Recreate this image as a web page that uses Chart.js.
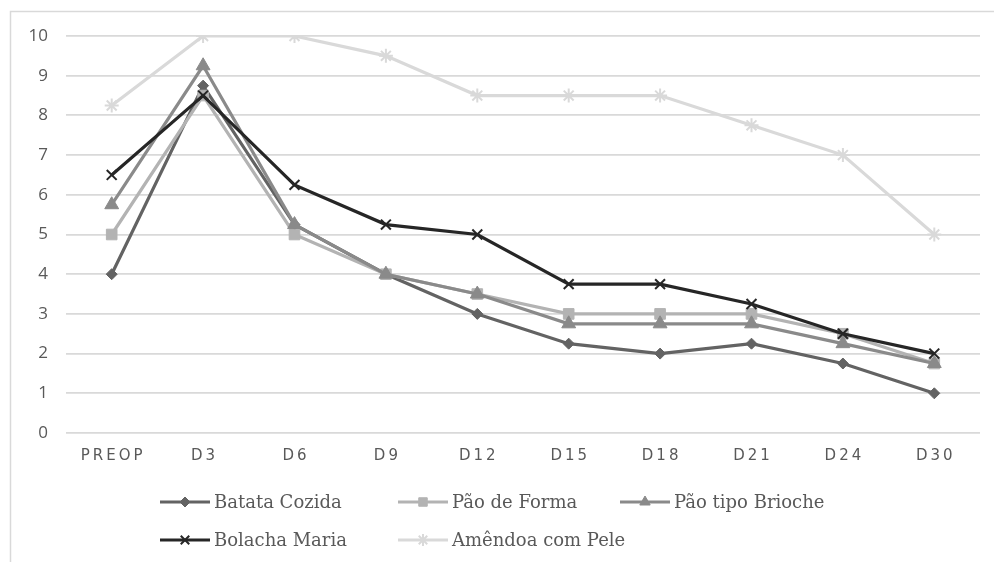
<!DOCTYPE html>
<html>
<head>
<meta charset="utf-8">
<script src="https://cdn.jsdelivr.net/npm/chart.js@4/dist/chart.umd.min.js"></script>
<style>
  html, body { margin: 0; padding: 0; background: #fff; }
  #wrap { position: relative; width: 994px; height: 562px; }
</style>
</head>
<body>
<div id="wrap"><canvas id="c" width="994" height="562"></canvas></div>
<script>
// Evaluation days
const days = ['PREOP', 'D3', 'D6', 'D9', 'D12', 'D15', 'D18', 'D21', 'D24', 'D30'];

// Scores per food
const batataCozida   = [4, 8.75, 5.25, 4, 3, 2.25, 2, 2.25, 1.75, 1];
const paoDeForma     = [5, 8.5, 5, 4, 3.5, 3, 3, 3, 2.5, 1.75];
const paoTipoBrioche = [5.75, 9.25, 5.25, 4, 3.5, 2.75, 2.75, 2.75, 2.25, 1.75];
const bolachaMaria   = [6.5, 8.5, 6.25, 5.25, 5, 3.75, 3.75, 3.25, 2.5, 2];
const amendoaComPele = [8.25, 10, 10, 9.5, 8.5, 8.5, 8.5, 7.75, 7, 5];

const seriesNames = ['Batata Cozida', 'Pão de Forma', 'Pão tipo Brioche', 'Bolacha Maria', 'Amêndoa com Pele'];
const seriesData = [batataCozida, paoDeForma, paoTipoBrioche, bolachaMaria, amendoaComPele];
const seriesColors = ['#636363', '#b3b3b3', '#8a8a8a', '#262626', '#d9d9d9'];
const seriesStyles = ['rectRot', 'rect', 'triangle', 'crossRot', 'star'];
const seriesRadius = [5.5, 7.5, 8, 7, 7];

const datasets = seriesData.map((d, i) => ({
  label: seriesNames[i],
  data: d,
  borderColor: seriesColors[i],
  backgroundColor: seriesColors[i],
  borderWidth: 3.2,
  pointStyle: seriesStyles[i],
  pointRadius: seriesRadius[i],
  pointHoverRadius: seriesRadius[i],
  pointBorderWidth: (seriesStyles[i] === 'crossRot' || seriesStyles[i] === 'star') ? 2 : 1,
  tension: 0,
  order: seriesData.length - i
}));

// Outer frame, letter-spaced category labels and a two-row legend
const framePlugin = {
  id: 'frame',
  beforeDraw(chart) {
    const ctx = chart.ctx;
    ctx.save();
    ctx.strokeStyle = '#d9d9d9';
    ctx.lineWidth = 1.5;
    ctx.beginPath();
    ctx.moveTo(10.5, 562);
    ctx.lineTo(10.5, 11.5);
    ctx.lineTo(994, 11.5);
    ctx.stroke();
    ctx.restore();
  },
  afterUpdate(chart) {
    const s = chart.scales.x;
    if (s && !s._spaced) {
      const orig = s.drawLabels.bind(s);
      s.drawLabels = function (area) {
        const ctx = chart.ctx;
        ctx.save();
        ctx.letterSpacing = '3px';
        ctx.translate(1.5, 0);
        orig(area);
        ctx.restore();
      };
      s._spaced = true;
    }
  },
  afterDraw(chart) {
    const ctx = chart.ctx;
    const cols = [160, 398, 620];
    const rows = [502, 540];
    ctx.save();
    chart.data.datasets.forEach((ds, i) => {
      const x = cols[i % 3];
      const y = rows[Math.floor(i / 3)];
      ctx.strokeStyle = ds.borderColor;
      ctx.lineWidth = 3.2;
      ctx.beginPath();
      ctx.moveTo(x, y);
      ctx.lineTo(x + 50, y);
      ctx.stroke();
      ctx.fillStyle = ds.backgroundColor;
      ctx.strokeStyle = ds.borderColor;
      ctx.lineWidth = ds.pointBorderWidth;
      Chart.helpers.drawPoint(ctx, {
        pointStyle: ds.pointStyle,
        rotation: 0,
        radius: ds.pointStyle === 'rectRot' ? 5 : 6,
        borderWidth: ds.pointBorderWidth
      }, x + 25, y);
      ctx.fillStyle = '#595959';
      ctx.font = '18px "DejaVu Serif"';
      ctx.textBaseline = 'middle';
      ctx.textAlign = 'left';
      ctx.fillText(ds.label, x + 54, y + 1);
    });
    ctx.restore();
  }
};

new Chart(document.getElementById('c'), {
  type: 'line',
  data: { labels: days, datasets },
  plugins: [framePlugin],
  options: {
    responsive: false,
    animation: false,
    events: [],
    layout: { padding: { left: 0, right: 14, top: 36, bottom: 99 } },
    plugins: { legend: { display: false }, tooltip: { enabled: false } },
    scales: {
      x: {
        offset: true,
        grid: { display: false, drawTicks: false },
        border: { display: false },
        ticks: {
          color: '#595959',
          font: { family: '"DejaVu Sans"', size: 15 },
          padding: 14,
          maxRotation: 0,
          autoSkip: false
        },
        afterFit(scale) { scale.height = 30; }
      },
      y: {
        min: 0,
        max: 10,
        grid: { color: '#d9d9d9', lineWidth: 1.8, drawTicks: false },
        border: { display: false },
        ticks: {
          stepSize: 1,
          color: '#595959',
          font: { family: '"Open Sans"', size: 17 },
          padding: 18
        },
        afterFit(scale) { scale.width = 66; }
      }
    }
  }
});
</script>
</body>
</html>
